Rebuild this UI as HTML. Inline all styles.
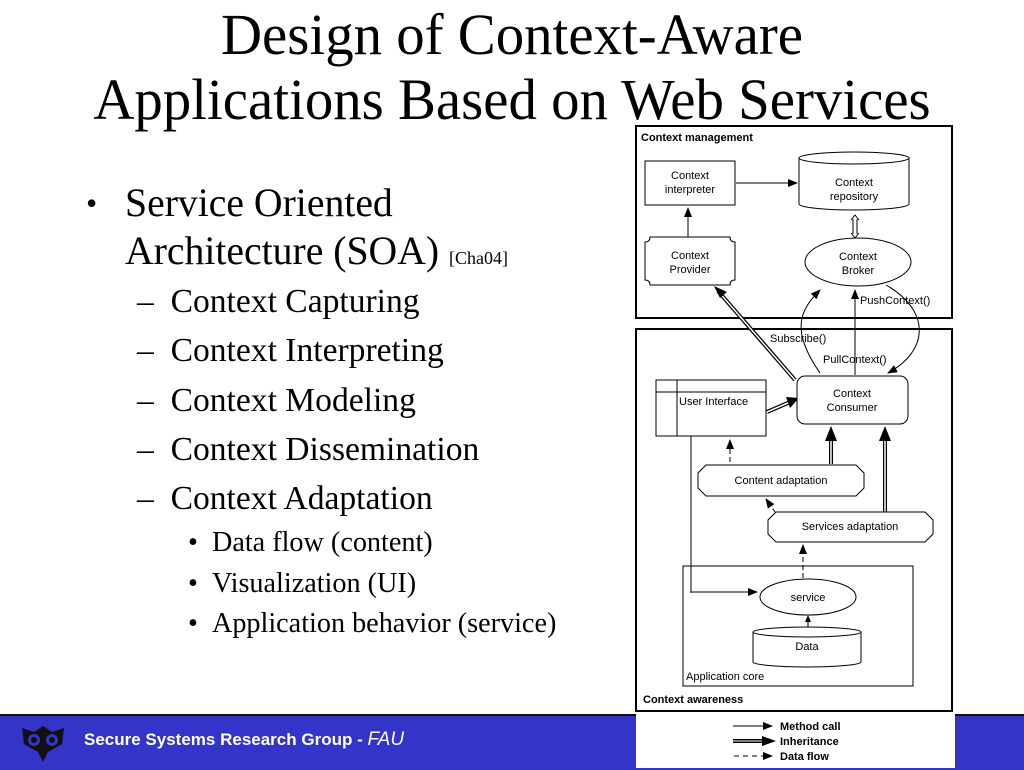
<!DOCTYPE html>
<html><head><meta charset="utf-8"><style>
body{margin:0;width:1024px;height:768px;overflow:hidden;background:#fff;font-family:"Liberation Serif",serif;position:relative}
h1{position:absolute;top:2px;left:0;width:1024px;margin:0;text-align:center;font-weight:normal;font-size:58px;line-height:65px;color:#000;transform:scaleX(0.98);transform-origin:512px 0}
.t{position:absolute;color:#000;white-space:nowrap;transform-origin:0 0}
#foot{position:absolute;left:0;top:714px;width:1024px;height:54px;background:#3434c8;border-top:2px solid #111}
</style></head><body>
<h1>Design of Context-Aware<br>Applications Based on Web Services</h1>
<div class="t" style="left:86px;top:179px;font-size:32px;line-height:48px">•</div>
<div class="t" style="left:125px;top:179px;font-size:39.7px;line-height:48px">Service Oriented<br>Architecture (SOA) <span style="font-size:18px">[Cha04]</span></div>
<div class="t" style="left:137px;top:277px;font-size:33.6px;line-height:49.3px">–&nbsp;&nbsp;Context Capturing<br>–&nbsp;&nbsp;Context Interpreting<br>–&nbsp;&nbsp;Context Modeling<br>–&nbsp;&nbsp;Context Dissemination<br>–&nbsp;&nbsp;Context Adaptation</div>
<div class="t" style="left:188px;top:523px;font-size:28.2px;line-height:40.5px">•&nbsp;&nbsp;Data flow (content)<br>•&nbsp;&nbsp;Visualization (UI)<br>•&nbsp;&nbsp;Application behavior (service)</div>
<div id="foot"></div>
<svg style="position:absolute;left:18px;top:722px" width="50" height="42" viewBox="0 0 50 42"><path d="M4 6 L16 10 L25 4 L34 10 L46 6 L44 22 L30 30 L25 40 L20 30 L6 22Z" fill="#111"/><circle cx="16" cy="18" r="6" fill="#3434c8"/><circle cx="34" cy="18" r="6" fill="#3434c8"/><circle cx="16" cy="18" r="3" fill="#111"/><circle cx="34" cy="18" r="3" fill="#111"/></svg>
<div class="t" style="left:84px;top:729px;font-family:'Liberation Sans',sans-serif;font-weight:bold;font-size:17px;color:#fff">Secure Systems Research Group - <i style="font-weight:normal;font-size:19px">FAU</i></div>
<svg style="position:absolute;left:0;top:0" width="1024" height="768" font-family="Liberation Sans, sans-serif" font-size="11">
<defs>
<marker id="a" markerWidth="10" markerHeight="8" refX="9" refY="4" orient="auto" markerUnits="userSpaceOnUse"><path d="M0 0L10 4L0 8Z" fill="#000"/></marker>
</defs>
<rect x="636" y="128" width="319" height="640" fill="#fff"/>
<rect x="636" y="126" width="316" height="192" fill="none" stroke="#000" stroke-width="2"/>
<text x="641" y="141" font-weight="bold" font-size="11">Context management</text>
<rect x="645" y="161" width="90" height="44" fill="#fff" stroke="#000"/>
<text x="690" y="179" text-anchor="middle">Context</text><text x="690" y="193" text-anchor="middle">interpreter</text>
<line x1="736" y1="183" x2="797" y2="183" stroke="#000" marker-end="url(#a)"/>
<path d="M799 158 V204 A55 6 0 0 0 909 204 V158" fill="#fff" stroke="#000"/>
<ellipse cx="854" cy="158" rx="55" ry="6" fill="#fff" stroke="#000"/>
<text x="854" y="186" text-anchor="middle">Context</text><text x="854" y="200" text-anchor="middle">repository</text>
<path d="M851 220 L855 215 L859 220 M853 219 V234 M857 219 V234 M851 233 L855 238 L859 233" fill="none" stroke="#000"/>
<path d="M650 237 H730 Q730 242 735 242 V280 Q730 280 730 285 H650 Q650 280 645 280 V242 Q650 242 650 237Z" fill="#fff" stroke="#000"/>
<text x="690" y="259" text-anchor="middle">Context</text><text x="690" y="273" text-anchor="middle">Provider</text>
<line x1="688" y1="237" x2="688" y2="208" stroke="#000" marker-end="url(#a)"/>
<ellipse cx="858" cy="262" rx="53" ry="24" fill="#fff" stroke="#000"/>
<text x="858" y="260" text-anchor="middle">Context</text><text x="858" y="274" text-anchor="middle">Broker</text>
<text x="860" y="304">PushContext()</text>
<rect x="636" y="329" width="316" height="382" fill="none" stroke="#000" stroke-width="2"/>
<text x="770" y="342">Subscribe()</text>
<text x="823" y="363">PullContext()</text>
<path d="M820 373 C790 330 800 310 820 290" fill="none" stroke="#000" marker-end="url(#a)"/>
<line x1="855" y1="375" x2="855" y2="290" stroke="#000" marker-end="url(#a)"/>
<path d="M886 285 C930 310 930 350 888 373" fill="none" stroke="#000" marker-end="url(#a)"/>
<line x1="795" y1="380" x2="718" y2="291" stroke="#000" stroke-width="4"/>
<line x1="795" y1="380" x2="718" y2="291" stroke="#fff" stroke-width="1.5"/>
<path d="M714 286 L727 292 L720 298Z" fill="#000"/>
<rect x="656" y="380" width="110" height="56" fill="#fff" stroke="#000"/>
<line x1="656" y1="392" x2="766" y2="392" stroke="#000"/><line x1="677" y1="380" x2="677" y2="436" stroke="#000"/>
<text x="679" y="405">User Interface</text>
<line x1="767" y1="412" x2="790" y2="402" stroke="#000" stroke-width="4"/><line x1="767" y1="412" x2="790" y2="402" stroke="#fff" stroke-width="1.5"/>
<path d="M799 398 L786 397 L790 408Z" fill="#000"/>
<rect x="797" y="376" width="111" height="48" rx="8" fill="#fff" stroke="#000"/>
<text x="852" y="397" text-anchor="middle">Context</text><text x="852" y="411" text-anchor="middle">Consumer</text>
<line x1="730" y1="462" x2="730" y2="440" stroke="#000" stroke-dasharray="5,3" marker-end="url(#a)"/>
<line x1="831" y1="464" x2="831" y2="440" stroke="#000" stroke-width="4"/><line x1="831" y1="464" x2="831" y2="440" stroke="#fff" stroke-width="1.5"/>
<path d="M825 441 L831 426 L837 441Z" fill="#000"/>
<line x1="885" y1="512" x2="885" y2="440" stroke="#000" stroke-width="4"/><line x1="885" y1="512" x2="885" y2="440" stroke="#fff" stroke-width="1.5"/>
<path d="M879 441 L885 426 L891 441Z" fill="#000"/>
<path d="M706 465 H856 L864 473 V488 L856 496 H706 L698 488 V473Z" fill="#fff" stroke="#000"/>
<text x="781" y="484" text-anchor="middle">Content adaptation</text>
<line x1="775" y1="512" x2="766" y2="499" stroke="#000" stroke-dasharray="4,3" marker-end="url(#a)"/>
<path d="M776 512 H925 L933 520 V534 L925 542 H776 L768 534 V520Z" fill="#fff" stroke="#000"/>
<text x="850" y="530" text-anchor="middle">Services adaptation</text>
<line x1="803" y1="578" x2="803" y2="545" stroke="#000" stroke-dasharray="5,3" marker-end="url(#a)"/>
<rect x="683" y="566" width="230" height="120" fill="none" stroke="#000"/>
<line x1="691" y1="436" x2="691" y2="593" stroke="#000"/>
<line x1="691" y1="592" x2="757" y2="592" stroke="#000" marker-end="url(#a)"/>
<ellipse cx="808" cy="597" rx="48" ry="18" fill="#fff" stroke="#000"/>
<text x="808" y="601" text-anchor="middle">service</text>
<line x1="808" y1="622" x2="808" y2="633" stroke="#000"/><path d="M805 622 L808 615 L811 622Z M805 631 L808 638 L811 631Z" fill="#000"/>
<path d="M753 632 V662 A54 5 0 0 0 861 662 V632" fill="#fff" stroke="#000"/>
<ellipse cx="807" cy="632" rx="54" ry="5" fill="#fff" stroke="#000"/>
<text x="807" y="650" text-anchor="middle">Data</text>
<text x="686" y="680">Application core</text>
<text x="643" y="703" font-weight="bold">Context awareness</text>
<line x1="733" y1="726" x2="772" y2="726" stroke="#000" marker-end="url(#a)"/>
<line x1="733" y1="741" x2="764" y2="741" stroke="#000" stroke-width="4"/><line x1="733" y1="741" x2="764" y2="741" stroke="#fff" stroke-width="1"/>
<path d="M762 736 L776 741 L762 746Z" fill="#000"/>
<line x1="734" y1="756" x2="772" y2="756" stroke="#000" stroke-dasharray="5,4" marker-end="url(#a)"/>
<text x="780" y="730" font-weight="bold" font-size="11">Method call</text>
<text x="780" y="745" font-weight="bold" font-size="11">Inheritance</text>
<text x="780" y="760" font-weight="bold" font-size="11">Data flow</text>
</svg>
</body></html>
